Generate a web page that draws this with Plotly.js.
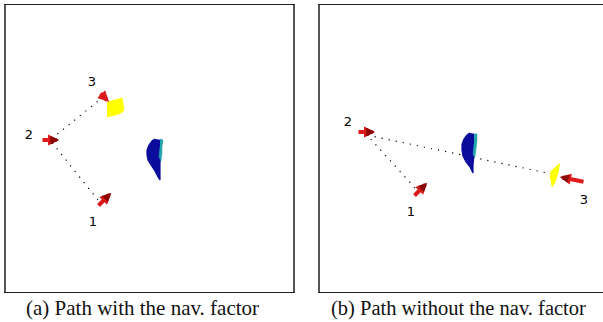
<!DOCTYPE html>
<html>
<head>
<meta charset="utf-8">
<script src="https://cdn.plot.ly/plotly-3.0.1.min.js"></script>
<style>html,body{margin:0;padding:0;background:#fff;}#chart{width:603px;height:322px;}</style>
</head>
<body>
<div id="chart"></div>
<script>
// ---- Panel (a): path with the navigation factor (local scene coordinates) ----
const aPathX = [92, 44, 96];
const aPathY = [195, 135, 93];
const aPoseTailX = [91, 35, 93];
const aPoseTailY = [202, 135, 87];
const aPoseHeadX = [105, 53, 103];
const aPoseHeadY = [188, 135, 97];
const aLabelX = [87, 23, 86];
const aLabelY = [218, 131, 78];
const aGoalX = [101, 108, 116, 117, 118, 117, 110, 101];
const aGoalY = [97, 95, 93, 98, 103, 107, 110, 112];
const aObsX = [149, 146, 143, 141, 141, 142, 145, 149, 152, 154, 154, 154, 155, 156];
const aObsY = [134, 136, 140, 145, 150, 155, 160, 166, 172, 175, 166, 158, 146, 135];
const aObsEdgeX = [154, 157, 156, 156, 155, 153, 154];
const aObsEdgeY = [134, 135, 141, 148, 156, 152, 142];

// ---- Panel (b): path without the navigation factor ----
const bPathX = [95, 47, 232];
const bPathY = [183, 130, 169];
const bPoseTailX = [93, 37, 265];
const bPoseTailY = [192, 127, 177];
const bPoseHeadX = [107, 55, 240];
const bPoseHeadY = [178, 127, 172];
const bLabelX = [91, 28, 264];
const bLabelY = [208, 118, 196];
const bGoalX = [240, 235, 231, 230, 231, 232, 235, 237, 239];
const bGoalY = [158, 162, 166, 171, 177, 182, 178, 172, 165];
const bObsX = [150, 147, 144, 142, 142, 143, 146, 150, 152, 153, 153, 154, 155, 156];
const bObsY = [128, 130, 134, 139, 145, 151, 157, 162, 166, 168, 160, 150, 140, 129];
const bObsEdgeX = [154, 157, 157, 156, 155, 153, 154];
const bObsEdgeY = [129, 129, 136, 144, 152, 150, 139];

const poseLabels = ['1', '2', '3'];
const captions = ['(a) Path with the nav. factor', '(b) Path without the nav. factor'];

function panelTraces(xa, ya, pathX, pathY, goalX, goalY, obsX, obsY, edgeX, edgeY, lx, ly) {
  return [
    {x: pathX, y: pathY, xaxis: xa, yaxis: ya, type: 'scatter', mode: 'lines',
     line: {color: '#000', width: 1.2, dash: '1.2px,6px'}, hoverinfo: 'skip'},
    {x: goalX, y: goalY, xaxis: xa, yaxis: ya, type: 'scatter', mode: 'lines', fill: 'toself',
     fillcolor: '#ffff00', line: {color: '#ffff00', width: 0.5}, hoverinfo: 'skip'},
    {x: obsX, y: obsY, xaxis: xa, yaxis: ya, type: 'scatter', mode: 'lines', fill: 'toself',
     fillcolor: '#0b0b9c', line: {color: '#0b0b9c', width: 1.2}, hoverinfo: 'skip'},
    {x: edgeX, y: edgeY, xaxis: xa, yaxis: ya, type: 'scatter', mode: 'lines', fill: 'toself',
     fillcolor: '#22a6ae', line: {color: '#22a6ae', width: 0.5}, hoverinfo: 'skip'},
    {x: lx, y: ly, xaxis: xa, yaxis: ya, type: 'scatter', mode: 'text', text: poseLabels,
     textfont: {family: 'DejaVu Sans', size: 13, color: '#000'}, hoverinfo: 'skip'}
  ];
}

const traces = [].concat(
  panelTraces('x', 'y', aPathX, aPathY, aGoalX, aGoalY, aObsX, aObsY, aObsEdgeX, aObsEdgeY, aLabelX, aLabelY),
  panelTraces('x2', 'y2', bPathX, bPathY, bGoalX, bGoalY, bObsX, bObsY, bObsEdgeX, bObsEdgeY, bLabelX, bLabelY)
);

function arrows(xr, yr, tx, ty, hx, hy) {
  const out = [];
  for (let i = 0; i < tx.length; i++) {
    // red shaft
    out.push({x: hx[i], y: hy[i], ax: tx[i], ay: ty[i], xref: xr, yref: yr, axref: xr, ayref: yr,
      text: '', showarrow: true, arrowhead: 2, arrowsize: 0.55, arrowwidth: 4, arrowcolor: '#dd1a1a',
      standoff: 0, startstandoff: 0});
    // darker head
    const mx = tx[i] + (hx[i] - tx[i]) * 0.7, my = ty[i] + (hy[i] - ty[i]) * 0.7;
    out.push({x: hx[i], y: hy[i], ax: mx, ay: my, xref: xr, yref: yr, axref: xr, ayref: yr,
      text: '', showarrow: true, arrowhead: 2, arrowsize: 0.5, arrowwidth: 3.5, arrowcolor: '#8a0606',
      standoff: 0, startstandoff: 0});
  }
  return out;
}

const annotations = [].concat(
  arrows('x', 'y', aPoseTailX, aPoseTailY, aPoseHeadX, aPoseHeadY),
  arrows('x2', 'y2', bPoseTailX, bPoseTailY, bPoseHeadX, bPoseHeadY),
  [
    {text: captions[0], xref: 'paper', yref: 'paper', x: 142/603, y: 1 - 308/322, showarrow: false,
     xanchor: 'center', yanchor: 'middle', font: {family: 'Liberation Serif', size: 21, color: '#111'}},
    {text: captions[1], xref: 'paper', yref: 'paper', x: 458/603, y: 1 - 308/322, showarrow: false,
     xanchor: 'center', yanchor: 'middle', font: {family: 'Liberation Serif', size: 20.5, color: '#111'}}
  ]
);

const axBase = {showgrid: false, zeroline: false, showticklabels: false, ticks: '', fixedrange: true,
  showline: true, linecolor: '#222', linewidth: 1.2};

const layout = {
  width: 603, height: 322,
  margin: {l: 0, r: 0, t: 0, b: 0},
  paper_bgcolor: '#fff', plot_bgcolor: '#fff',
  showlegend: false,
  xaxis: Object.assign({}, axBase, {domain: [6/603, 293/603], range: [0, 287], mirror: true, anchor: 'y'}),
  yaxis: Object.assign({}, axBase, {domain: [1 - 292/322, 1 - 5/322], range: [287, 0], mirror: true, anchor: 'x',
    linecolor: '#555', linewidth: 2}),
  xaxis2: Object.assign({}, axBase, {domain: [320/603, 1], range: [0, 283], mirror: true, anchor: 'y2'}),
  yaxis2: Object.assign({}, axBase, {domain: [1 - 292/322, 1 - 5/322], range: [287, 0], mirror: false, anchor: 'x2',
    linecolor: '#555', linewidth: 2}),
  annotations: annotations
};

Plotly.newPlot('chart', traces, layout, {staticPlot: true, displayModeBar: false});
</script>
</body>
</html>
